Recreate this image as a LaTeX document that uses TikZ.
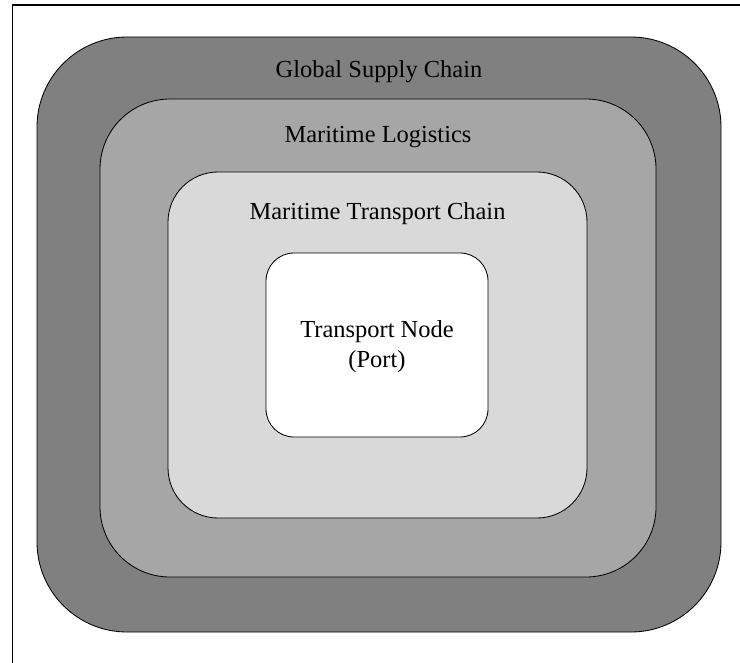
\documentclass[tikz,border=0pt]{standalone}
\usepackage{fontspec}
\setmainfont{Liberation Serif}
\begin{document}
\begin{tikzpicture}[x=0.025cm, y=-0.025cm,
  layer/.style={draw=black, line width=0.6pt},
  layerlabel/.style={font=\fontsize{17.4}{21.3}\selectfont, anchor=base, inner sep=0pt},
]
  \useasboundingbox (0,0) rectangle (740,662);
  \clip (0,0) rectangle (740,662);
  % outer frame, cut by the page edge
  \draw[line width=0.9pt] (12.5,5) rectangle (780,700);

  % nested layers, outermost first
  \foreach \xa/\ya/\xb/\yb/\r/\col in {
    37/37/721/632/2.25cm/black!50,
    100/99/656/577/1.75cm/black!35,
    168/172/587/518/1.25cm/black!15,
    266/253/488/437/0.7cm/white} {
    \draw[layer, fill=\col, rounded corners=\r] (\xa,\ya) rectangle (\xb,\yb);
  }

  % layer labels
  \node[layerlabel] (global) at (379,78) {Global Supply Chain};
  \node[layerlabel] (logistics) at (378,143) {Maritime Logistics};
  \node[layerlabel] (chain) at (377.5,219) {Maritime Transport Chain};
  \node[layerlabel, anchor=center, align=center] (port) at (377,347) {Transport Node\\(Port)};
\end{tikzpicture}
\end{document}
